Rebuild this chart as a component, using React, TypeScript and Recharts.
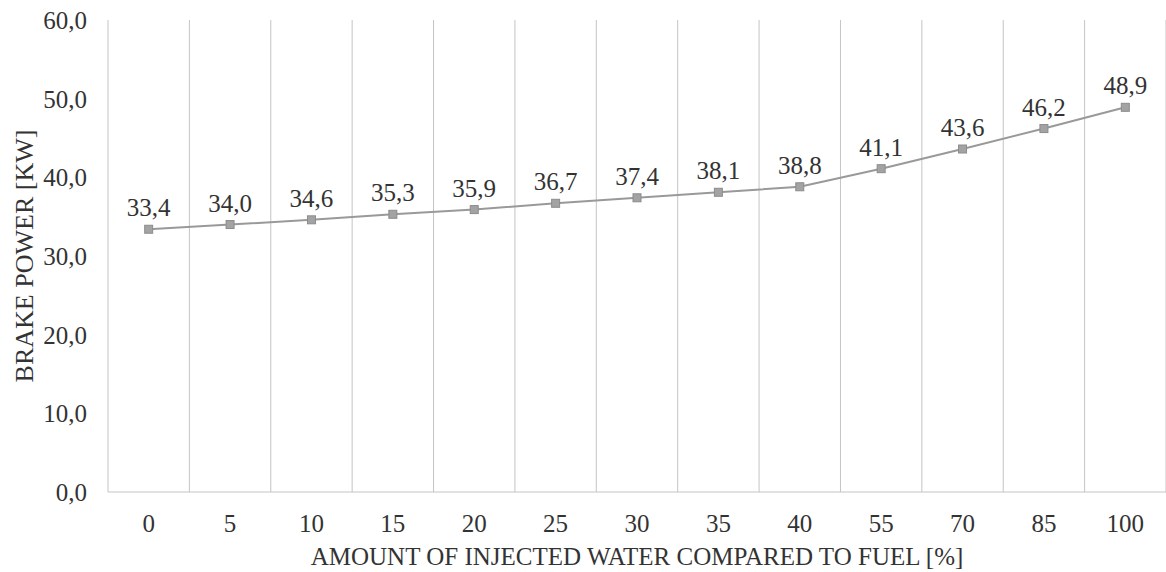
import { CartesianGrid, ComposedChart, LabelList, Line, XAxis, YAxis } from "recharts";

const waterShares = ["0", "5", "10", "15", "20", "25", "30", "35", "40", "55", "70", "85", "100"];
const brakePower = [33.4, 34.0, 34.6, 35.3, 35.9, 36.7, 37.4, 38.1, 38.8, 41.1, 43.6, 46.2, 48.9];
const powerTicks = [0, 10, 20, 30, 40, 50, 60];

const data = waterShares.map((share, i) => ({ share, power: brakePower[i] }));

const font = "'Liberation Serif', 'Times New Roman', serif";
const textColor = "#333333";
const comma = (v: number) => v.toFixed(1).replace(".", ",");

const SquareDot = (props: any) => {
  const { cx, cy } = props;
  if (cx == null || cy == null) return null;
  return <rect x={cx - 4} y={cy - 4} width={8} height={8} fill="#a3a3a3" stroke="#8c8c8c" strokeWidth={1} />;
};

export default function App() {
  return (
    <div style={{ position: "absolute", left: 0, top: 0, background: "#fff" }}>
      <ComposedChart
        width={1166}
        height={572}
        data={data}
        margin={{ top: 20, right: 0, bottom: 0, left: 0 }}
        style={{ fontFamily: font }}
      >
        <CartesianGrid
          horizontal={false}
          stroke="#c4c4c4"
          strokeWidth={1}
          verticalCoordinatesGenerator={({ offset }: any) =>
            Array.from({ length: waterShares.length + 1 }, (_, i) => offset.left + (i * offset.width) / waterShares.length)
          }
        />
        <XAxis
          dataKey="share"
          scale="band"
          height={80}
          tickLine={false}
          tickSize={0}
          tickMargin={22}
          axisLine={{ stroke: "#c4c4c4" }}
          tick={{ fill: textColor, fontSize: 25, fontFamily: font }}
          interval={0}
          label={{
            value: "AMOUNT OF INJECTED WATER COMPARED TO FUEL [%]",
            position: "insideBottom",
            offset: 7,
            style: { fill: textColor, fontSize: 25, fontFamily: font },
          }}
        />
        <YAxis
          width={108}
          domain={[0, 60]}
          ticks={powerTicks}
          axisLine={false}
          tickLine={false}
          tickSize={0}
          tickMargin={21}
          tickFormatter={comma}
          tick={{ fill: textColor, fontSize: 25, fontFamily: font }}
          label={{
            value: "BRAKE POWER [KW]",
            angle: -90,
            position: "insideLeft",
            offset: 24,
            style: { fill: textColor, fontSize: 26, fontFamily: font, textAnchor: "middle" },
          }}
        />
        <Line
          dataKey="power"
          type="linear"
          stroke="#999999"
          strokeWidth={2}
          dot={<SquareDot />}
          activeDot={false}
          isAnimationActive={false}
        >
          <LabelList
            dataKey="power"
            position="top"
            offset={13}
            formatter={(v: any) => comma(Number(v))}
            style={{ fill: textColor, fontSize: 25, fontFamily: font }}
          />
        </Line>
      </ComposedChart>
    </div>
  );
}
